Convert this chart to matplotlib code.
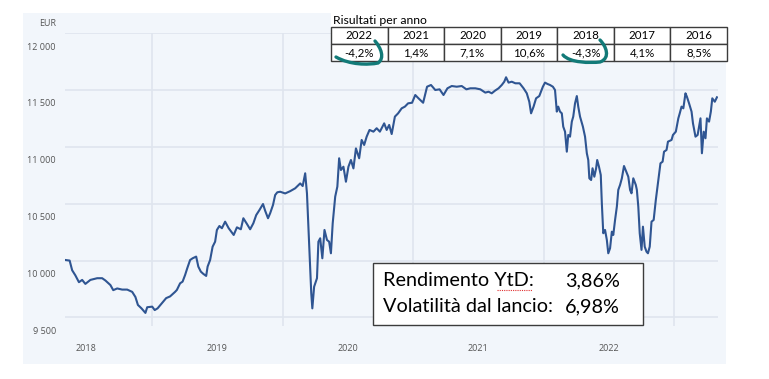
import pandas as pd
import matplotlib.pyplot as plt
from matplotlib.patches import Rectangle, PathPatch
from matplotlib.path import Path
from matplotlib.transforms import ScaledTranslation

# Andamento del fondo (EUR)
date = [
    "2018-05-03", "2018-05-15", "2018-05-22", "2018-05-31", "2018-06-10", "2018-06-19",
    "2018-06-28", "2018-07-12", "2018-07-31", "2018-08-14", "2018-08-23", "2018-09-06",
    "2018-09-14", "2018-09-25", "2018-10-09", "2018-10-23", "2018-11-06", "2018-11-15",
    "2018-11-22", "2018-12-02", "2018-12-13", "2018-12-18", "2019-01-01", "2019-01-08",
    "2019-01-16", "2019-01-28", "2019-02-09", "2019-02-20", "2019-03-06", "2019-03-11",
    "2019-03-20", "2019-03-27", "2019-04-03", "2019-04-09", "2019-04-17", "2019-04-24",
    "2019-05-04", "2019-05-10", "2019-05-17", "2019-05-24", "2019-06-01", "2019-06-05",
    "2019-06-12", "2019-06-19", "2019-06-26", "2019-07-01", "2019-07-08", "2019-07-15",
    "2019-07-24", "2019-08-03", "2019-08-17", "2019-08-26", "2019-09-06", "2019-09-13",
    "2019-09-23", "2019-10-02", "2019-10-11", "2019-10-19", "2019-10-28", "2019-11-07",
    "2019-11-13", "2019-11-21", "2019-11-27", "2019-12-05", "2019-12-11", "2019-12-17",
    "2019-12-25", "2020-01-08", "2020-01-22", "2020-02-05", "2020-02-19", "2020-02-26",
    "2020-03-04", "2020-03-09", "2020-03-13", "2020-03-18", "2020-03-21", "2020-03-24",
    "2020-03-29", "2020-04-06", "2020-04-10", "2020-04-15", "2020-04-21", "2020-04-27",
    "2020-05-04", "2020-05-10", "2020-05-15", "2020-05-20", "2020-05-27", "2020-06-02",
    "2020-06-07", "2020-06-12", "2020-06-19", "2020-06-26", "2020-07-03", "2020-07-10",
    "2020-07-17", "2020-07-24", "2020-08-02", "2020-08-09", "2020-08-16", "2020-08-23",
    "2020-08-31", "2020-09-11", "2020-09-20", "2020-09-29", "2020-10-11", "2020-10-18",
    "2020-10-25", "2020-11-01", "2020-11-10", "2020-11-19", "2020-11-29", "2020-12-08",
    "2020-12-17", "2020-12-28", "2021-01-06", "2021-01-15", "2021-01-28", "2021-02-08",
    "2021-02-19", "2021-03-03", "2021-03-15", "2021-03-26", "2021-04-06", "2021-04-18",
    "2021-05-02", "2021-05-16", "2021-05-29", "2021-06-09", "2021-06-23", "2021-07-07",
    "2021-07-21", "2021-07-30", "2021-08-08", "2021-08-17", "2021-08-27", "2021-09-05",
    "2021-09-12", "2021-09-17", "2021-09-24", "2021-10-03", "2021-10-13", "2021-10-25",
    "2021-11-05", "2021-11-14", "2021-11-21", "2021-11-26", "2021-12-03", "2021-12-10",
    "2021-12-19", "2021-12-29", "2022-01-04", "2022-01-11", "2022-01-18", "2022-01-26",
    "2022-02-01", "2022-02-06", "2022-02-10", "2022-02-15", "2022-02-20", "2022-02-24",
    "2022-03-01", "2022-03-06", "2022-03-10", "2022-03-15", "2022-03-20", "2022-03-24",
    "2022-03-29", "2022-04-03", "2022-04-07", "2022-04-12", "2022-04-20", "2022-04-26",
    "2022-05-01", "2022-05-05", "2022-05-08", "2022-05-13", "2022-05-17", "2022-05-22",
    "2022-05-27", "2022-05-30", "2022-06-04", "2022-06-09", "2022-06-12", "2022-06-16",
    "2022-06-21", "2022-06-26", "2022-06-30", "2022-07-05", "2022-07-10", "2022-07-14",
    "2022-07-19", "2022-07-24", "2022-07-28", "2022-08-02", "2022-08-07", "2022-08-13",
    "2022-08-21", "2022-08-25", "2022-08-30", "2022-09-03", "2022-09-08", "2022-09-15",
    "2022-09-18", "2022-09-22", "2022-09-26", "2022-10-01", "2022-10-05", "2022-10-10",
    "2022-10-15", "2022-10-19", "2022-10-24", "2022-10-29", "2022-11-04", "2022-11-10",
    "2022-11-16", "2022-11-23", "2022-11-29", "2022-12-03", "2022-12-10", "2022-12-14",
    "2022-12-24", "2022-12-28", "2023-01-05", "2023-01-12", "2023-01-16", "2023-01-21",
    "2023-01-26", "2023-02-01", "2023-02-05", "2023-02-11", "2023-02-18", "2023-02-22",
    "2023-03-01", "2023-03-07", "2023-03-11", "2023-03-15", "2023-03-19", "2023-03-24",
    "2023-03-29", "2023-04-02", "2023-04-08", "2023-04-13", "2023-04-17", "2023-04-24",
    "2023-04-30",
]
valore = [
    10005, 10000, 9915, 9870, 9810, 9830,
    9795, 9830, 9845, 9845, 9825, 9785,
    9740, 9755, 9745, 9745, 9725, 9680,
    9610, 9580, 9540, 9590, 9595, 9565,
    9580, 9625, 9670, 9685, 9725, 9742,
    9800, 9815, 9873, 9932, 10005, 10020,
    10035, 9947, 9903, 9883, 9865, 9947,
    10005, 10122, 10166, 10269, 10304, 10284,
    10342, 10284, 10225, 10292, 10275, 10372,
    10322, 10275, 10328, 10400, 10444, 10497,
    10438, 10372, 10416, 10489, 10576, 10600,
    10605, 10590, 10610, 10635, 10678, 10655,
    10767, 10590, 10298, 9947, 9713, 9580,
    9770, 9845, 10166, 10196, 10020, 10269,
    10181, 10166, 10064, 10328, 10562, 10650,
    10899, 10796, 10825, 10693, 10825, 10884,
    10810, 10986, 10899, 11060, 11016, 11089,
    11148, 11133, 11163, 11133, 11206, 11148,
    11192, 11112, 11265, 11294, 11338, 11353,
    11382, 11387, 11455, 11426, 11387, 11528,
    11543, 11499, 11505, 11455, 11514, 11534,
    11528, 11534, 11505, 11514, 11514, 11505,
    11476, 11484, 11470, 11493, 11514, 11543,
    11572, 11611, 11564, 11572, 11558, 11558,
    11514, 11470, 11396, 11294, 11353, 11426,
    11446, 11528, 11564, 11552, 11543, 11528,
    11499, 11309, 11353, 11309, 11294, 11177,
    11133, 10957, 11104, 11089, 11221, 11265,
    11382, 11446, 11353, 11265, 11177, 11089,
    10943, 10884, 10723, 10708, 10811, 10737,
    10811, 10884, 10825, 10752, 10503, 10240,
    10269, 10181, 10064, 10108, 10254, 10225,
    10357, 10474, 10621, 10665, 10723, 10831,
    10767, 10737, 10621, 10591, 10723, 10665,
    10621, 10474, 10240, 10094, 10298, 10122,
    10078, 10064, 10122, 10342, 10357, 10532,
    10679, 10855, 10869, 10957, 10972, 11045,
    11060, 11104, 11133, 11250, 11294, 11353,
    11338, 11470, 11440, 11382, 11309, 11206,
    11089, 11104, 11177, 11250, 10943, 11133,
    11075, 11250, 11221, 11309, 11426, 11396,
    11435,
]

# Tabella dei risultati per anno
anni = ["2022", "2021", "2020", "2019", "2018", "2017", "2016"]
risultati = ["-4,2%", "1,4%", "7,1%", "10,6%", "-4,3%", "4,1%", "8,5%"]

y_ticks = [9500, 10000, 10500, 11000, 11500, 12000]
y_labels = ["9 500", "10 000", "10 500", "11 000", "11 500", "12 000"]
x_labels = ["2018", "2019", "2020", "2021", "2022"]

W, H = 769, 379
FONT = "Lato"
BLU = "#2f5592"
GRIGLIA = "#dfe5ee"
TEAL = "#127a78"


def fx(px):
    return px / W


def fy(py):
    return 1 - py / H


fig = plt.figure(figsize=(W / 100, H / 100), dpi=100)

# pannello azzurro di sfondo
fig.patches.append(Rectangle((fx(23), fy(364)), (726 - 23) / W, (364 - 13) / H,
                             transform=fig.transFigure, facecolor="#f2f6fb",
                             edgecolor="none", zorder=-2))
# fondo bianco dietro al titolo della tabella
fig.patches.append(Rectangle((fx(331), fy(27)), (727 - 331) / W, 14 / H,
                             transform=fig.transFigure, facecolor="white",
                             edgecolor="none", zorder=-1))

ax = fig.add_axes([fx(65), fy(326), (718 - 65) / W, (326 - 33) / H])
ax.set_facecolor("none")

serie = pd.Series(valore, index=pd.to_datetime(date))
ax.plot(serie.index, serie.values, color=BLU, linewidth=1.5, zorder=3)

ax.set_xlim(pd.Timestamp("2018-05-02"), pd.Timestamp("2023-05-03"))
ax.set_ylim(9425, 12000)

ax.set_yticks(y_ticks)
ax.set_yticklabels(y_labels)
ax.set_xticks(pd.to_datetime([f"{a}-01-01" for a in range(2019, 2024)]))
ax.set_xticklabels([])
ax.set_xticks(pd.to_datetime([f"{a}-07-01" for a in x_labels]), minor=True)
ax.set_xticklabels(x_labels, minor=True)

ax.tick_params(axis="both", which="both", length=0, colors="#555555", labelsize=6.5)
ax.tick_params(axis="y", pad=6.5)
ax.tick_params(axis="x", which="minor", pad=13)
for lab in ax.get_yticklabels() + ax.get_xticklabels(minor=True):
    lab.set_fontfamily("Open Sans")
# le etichette dell'asse y stanno sotto le linee della griglia
for lab in ax.get_yticklabels():
    lab.set_transform(lab.get_transform() + ScaledTranslation(0, -0.13, fig.dpi_scale_trans))

ax.grid(axis="y", color=GRIGLIA, linewidth=1.2)
ax.grid(axis="x", which="major", color=GRIGLIA, linewidth=1.2)
for s in ax.spines.values():
    s.set_visible(False)

fig.text(fx(56), fy(23), "EUR", ha="right", va="center", fontsize=6.5,
         color="#555555", family="Open Sans")

# tabella risultati per anno
fig.text(fx(333), fy(20), "Risultati per anno", ha="left", va="center",
         fontsize=8.8, family=FONT, color="black")
ax_t = fig.add_axes([fx(331), fy(61), (727 - 331) / W, (61 - 27) / H])
ax_t.axis("off")
tbl = ax_t.table(cellText=[anni, risultati], cellLoc="center", bbox=[0, 0, 1, 1])
tbl.auto_set_font_size(False)
for cell in tbl.get_celld().values():
    cell.set_edgecolor("#3c3c3c")
    cell.set_linewidth(1.0)
    cell.set_facecolor("white")
    cell.get_text().set_fontsize(8.3)
    cell.get_text().set_fontfamily(FONT)


# cerchi a mano libera attorno ai risultati negativi
def uncino(punti):
    codes = [Path.MOVETO] + [Path.CURVE4] * (len(punti) - 1)
    verts = [(fx(a), fy(b)) for a, b in punti]
    fig.patches.append(PathPatch(Path(verts, codes), transform=fig.transFigure,
                                 facecolor="none", edgecolor=TEAL, linewidth=2.4,
                                 capstyle="round", zorder=5))


uncino([(375, 41), (381, 48), (385, 58), (378, 63),
        (368, 65), (350, 65), (336, 57)])
uncino([(600, 40), (606, 46), (611, 58), (600, 62),
        (590, 63), (570, 63), (563, 55)])

# riquadro rendimento / volatilità
fig.patches.append(Rectangle((fx(373), fy(325)), (643 - 373) / W, (325 - 263) / H,
                             transform=fig.transFigure, facecolor="white",
                             edgecolor="#3c3c3c", linewidth=1.0, zorder=4))
righe = [("Rendimento YtD:", "3,86%", 281), ("Volatilità dal lancio:", "6,98%", 307)]
for testo, valore_txt, yy in righe:
    fig.text(fx(383), fy(yy), testo, ha="left", va="center", fontsize=14.3,
             family=FONT, color="black", zorder=6)
    fig.text(fx(620), fy(yy), valore_txt, ha="right", va="center", fontsize=14.3,
             family=FONT, color="black", zorder=6)
fig.lines.append(plt.Line2D([fx(497), fx(532)], [fy(290), fy(290)],
                            transform=fig.transFigure, color="#e03030",
                            linewidth=0.8, linestyle=(0, (1, 1)), zorder=6))

fig.savefig("out.png", dpi=100)
